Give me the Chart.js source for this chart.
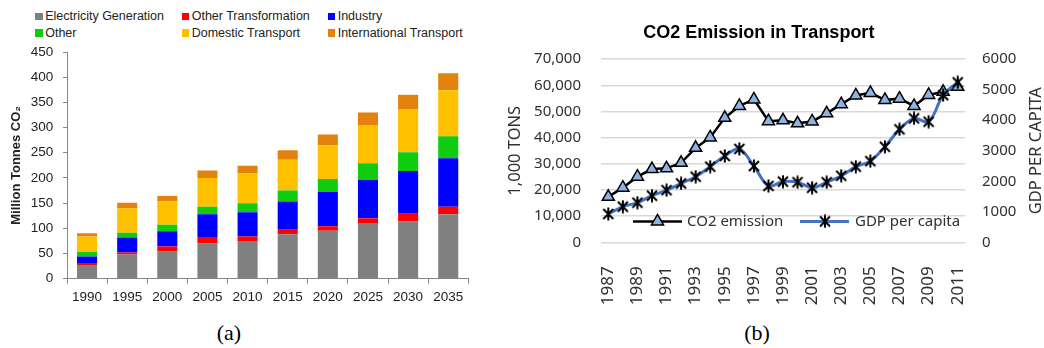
<!DOCTYPE html>
<html>
<head>
<meta charset="utf-8">
<script src="https://cdn.jsdelivr.net/npm/chart.js@4.4.1/dist/chart.umd.min.js"></script>
<style>
  body { margin: 0; width: 1044px; height: 348px; background: #fff; position: relative; overflow: hidden; }
  .box { position: absolute; top: 0; }
  #legendA { position: absolute; left: 35px; top: 8px; display: grid; grid-template-columns: 146.5px 146px auto;
             font: 12.5px 'Liberation Sans', Arial, sans-serif; color: #222; line-height: 16.6px; }
  #legendA span.sw { display: inline-block; width: 7.5px; height: 7.5px; margin-right: 2.7px; vertical-align: 0px; }
  .cap { position: absolute; top: 320px; width: 60px; margin-left: -30px; text-align: center;
         font: 22px 'Liberation Serif', 'Times New Roman', serif; color: #000; }
</style>
</head>
<body>
<div id="legendA"></div>
<div class="box" style="left:0;width:480px;height:310px"><canvas id="chartA"></canvas></div>
<div class="box" style="left:500px;width:544px;height:312px"><canvas id="chartB"></canvas></div>
<div class="cap" style="left:229px">(a)</div>
<div class="cap" style="left:757px">(b)</div>

<script>
// (a) emissions by sector, million tonnes CO2
var years = ['1990', '1995', '2000', '2005', '2010', '2015', '2020', '2025', '2030', '2035'];
var electricityGeneration = [27, 48, 54, 70, 75, 88, 95, 109, 114, 128];
var otherTransformation = [4, 4, 10, 13, 9, 9, 9, 11, 15, 15];
var industry = [13, 30, 30, 45, 48, 56, 68, 76, 85, 96];
var other = [9, 9, 13, 15, 18, 22, 26, 33, 37, 44];
var domesticTransport = [31, 49, 46, 57, 59, 61, 67, 76, 86, 91];
var internationalTransport = [6, 11, 11, 15, 15, 19, 21, 25, 28, 34];
var sectorNames = ['Electricity Generation', 'Other Transformation', 'Industry', 'Other', 'Domestic Transport', 'International Transport'];
var sectorColors = ['#808080', '#FF0000', '#0000FF', '#0FCC0F', '#FFC000', '#E4820F'];

// (b) CO2 emission in transport (1,000 tons) and GDP per capita
var transportYears = ['1987', '1988', '1989', '1990', '1991', '1992', '1993', '1994', '1995', '1996', '1997', '1998', '1999',
                      '2000', '2001', '2002', '2003', '2004', '2005', '2006', '2007', '2008', '2009', '2010', '2011'];
var co2Emission = [17400, 20900, 25100, 28000, 28300, 30400, 36100, 40100, 47600, 52100, 54600, 46300, 46600,
                   45500, 46200, 49300, 52800, 56100, 57100, 54400, 54900, 52100, 56300, 57500, 59400];
var gdpPerCapita = [930, 1170, 1300, 1530, 1710, 1930, 2150, 2480, 2830, 3060, 2500, 1850, 1990,
                    1970, 1790, 1970, 2180, 2480, 2660, 3130, 3700, 4060, 3950, 4820, 5240];
var chartTitleB = 'CO2 Emission in Transport';
var co2AxisTitle = '1,000 TONS';
var gdpAxisTitle = 'GDP PER CAPITA';
var co2Label = 'CO2 emission';
var gdpLabel = 'GDP per capita';

var sansA = "'Liberation Sans', Arial, sans-serif";
var sansB = "'Noto Sans', 'Open Sans', sans-serif";
var textB = '#303030';

// legend (a), filled row by row
var sectorData = [electricityGeneration, otherTransformation, industry, other, domesticTransport, internationalTransport];
var legendA = document.getElementById('legendA');
sectorNames.forEach(function(name, i) {
  var item = document.createElement('div');
  item.innerHTML = '<span class="sw" style="background:' + sectorColors[i] + '"></span>' + name;
  legendA.appendChild(item);
});

new Chart(document.getElementById('chartA'), {
  type: 'bar',
  data: {
    labels: years,
    datasets: sectorNames.map(function(name, i) {
      return { label: name, data: sectorData[i], backgroundColor: sectorColors[i], barPercentage: 0.5, categoryPercentage: 1 };
    })
  },
  options: {
    responsive: true,
    maintainAspectRatio: false,
    animation: false,
    events: [],
    layout: { padding: { top: 52, left: 5, right: 11.7, bottom: 5 } },
    plugins: { legend: { display: false }, tooltip: { enabled: false } },
    scales: {
      x: {
        stacked: true,
        afterFit: function(scale) { scale.height = 26.3; },
        grid: { offset: true, drawOnChartArea: false, tickLength: 5, color: '#868686' },
        border: { color: '#868686' },
        ticks: { color: '#222', padding: 5, font: { family: sansA, size: 13.5 } }
      },
      y: {
        stacked: true,
        min: 0,
        max: 450,
        afterFit: function(scale) { scale.width = 62; },
        ticks: { stepSize: 50, color: '#222', padding: 9.7, font: { family: sansA, size: 13.5 } },
        grid: { drawOnChartArea: false, tickLength: 4, color: '#868686' },
        border: { color: '#868686' },
        title: { display: true, text: 'Million Tonnes CO\u2082', color: '#222', padding: { top: 4, bottom: 6 },
                 font: { family: sansA, size: 13, weight: 'bold' } }
      }
    }
  }
});

// asterisk marker for GDP per capita
var star = document.createElement('canvas');
star.width = 14;
star.height = 14;
var sctx = star.getContext('2d');
sctx.strokeStyle = '#000';
sctx.lineWidth = 2;
sctx.beginPath();
sctx.moveTo(2, 2); sctx.lineTo(12, 12);
sctx.moveTo(12, 2); sctx.lineTo(2, 12);
sctx.moveTo(7, 0.5); sctx.lineTo(7, 13.5);
sctx.stroke();

var triangleFill = '#8DB3E2';

// right axis title (reads upwards) and the legend inside the plot
var chartBExtras = {
  id: 'chartBExtras',
  afterDraw: function(chart) {
    var ctx = chart.ctx;
    var area = chart.chartArea;

    ctx.save();
    ctx.fillStyle = textB;
    ctx.font = '16.5px ' + sansB;
    ctx.textAlign = 'center';
    ctx.textBaseline = 'middle';
    ctx.translate(chart.width - 7.3, (area.top + area.bottom) / 2);
    ctx.rotate(-Math.PI / 2);
    ctx.fillText(gdpAxisTitle, 0, 0);
    ctx.restore();

    var ly = area.bottom - 21;
    ctx.save();
    ctx.lineCap = 'butt';
    ctx.strokeStyle = '#000';
    ctx.lineWidth = 2.5;
    ctx.beginPath();
    ctx.moveTo(area.left + 32, ly);
    ctx.lineTo(area.left + 81, ly);
    ctx.stroke();
    var tx = area.left + 56.5, r = 7;
    ctx.beginPath();
    ctx.moveTo(tx, ly - r);
    ctx.lineTo(tx + r * 0.866, ly + r / 2);
    ctx.lineTo(tx - r * 0.866, ly + r / 2);
    ctx.closePath();
    ctx.fillStyle = triangleFill;
    ctx.fill();
    ctx.lineWidth = 1.5;
    ctx.stroke();

    ctx.strokeStyle = '#4472C4';
    ctx.lineWidth = 3;
    ctx.beginPath();
    ctx.moveTo(area.left + 199, ly);
    ctx.lineTo(area.left + 248, ly);
    ctx.stroke();
    ctx.drawImage(star, area.left + 224 - 7, ly - 7);

    ctx.fillStyle = textB;
    ctx.font = '15px ' + sansB;
    ctx.textAlign = 'left';
    ctx.textBaseline = 'middle';
    ctx.fillText(co2Label, area.left + 86, ly);
    ctx.fillText(gdpLabel, area.left + 254, ly);
    ctx.restore();
  }
};

new Chart(document.getElementById('chartB'), {
  type: 'line',
  data: {
    labels: transportYears,
    datasets: [
      {
        label: co2Label,
        data: co2Emission,
        yAxisID: 'y',
        order: 1,
        borderColor: '#000',
        borderWidth: 2.5,
        tension: 0,
        pointStyle: 'triangle',
        pointRadius: 7,
        pointBackgroundColor: triangleFill,
        pointBorderColor: '#000',
        pointBorderWidth: 1.5
      },
      {
        label: gdpLabel,
        data: gdpPerCapita,
        yAxisID: 'y1',
        order: 0,
        borderColor: '#4472C4',
        borderWidth: 3,
        tension: 0.35,
        pointStyle: star,
        pointRadius: 7
      }
    ]
  },
  options: {
    responsive: true,
    maintainAspectRatio: false,
    animation: false,
    events: [],
    layout: { padding: { top: 0, left: 1.4, right: 27.7, bottom: 3 } },
    plugins: {
      legend: { display: false },
      tooltip: { enabled: false },
      title: { display: true, text: chartTitleB, color: '#000', padding: { top: 22, bottom: 15.5 },
               font: { family: sansA, size: 18, weight: 'bold' } }
    },
    scales: {
      x: {
        offset: true,
        afterFit: function(scale) { scale.height = 66.6; },
        grid: { display: false },
        border: { display: false },
        ticks: {
          autoSkip: false,
          minRotation: 90,
          maxRotation: 90,
          padding: 16,
          color: textB,
          font: { family: sansB, size: 17 },
          callback: function(v, i) { return i % 2 === 0 ? this.getLabelForValue(v) : ''; }
        }
      },
      y: {
        position: 'left',
        min: 0,
        max: 70000,
        afterFit: function(scale) { scale.width = 99.6; },
        grid: { color: '#D9D9D9', lineWidth: 1.5, drawTicks: false },
        border: { display: false },
        ticks: {
          stepSize: 10000,
          padding: 20,
          color: textB,
          font: { family: sansB, size: 15 },
          callback: function(v) { return v.toLocaleString('en-US'); }
        },
        title: { display: true, text: co2AxisTitle, color: textB, padding: { top: 4, bottom: 9 },
                 font: { family: sansB, size: 16.5 } }
      },
      y1: {
        position: 'right',
        min: 0,
        max: 6000,
        afterFit: function(scale) { scale.width = 51.3; },
        grid: { drawOnChartArea: false, drawTicks: false },
        border: { display: false },
        ticks: {
          stepSize: 1000,
          padding: 17,
          color: textB,
          font: { family: sansB, size: 15 },
          callback: function(v) { return String(v); }
        }
      }
    }
  },
  plugins: [chartBExtras]
});
</script>
</body>
</html>
